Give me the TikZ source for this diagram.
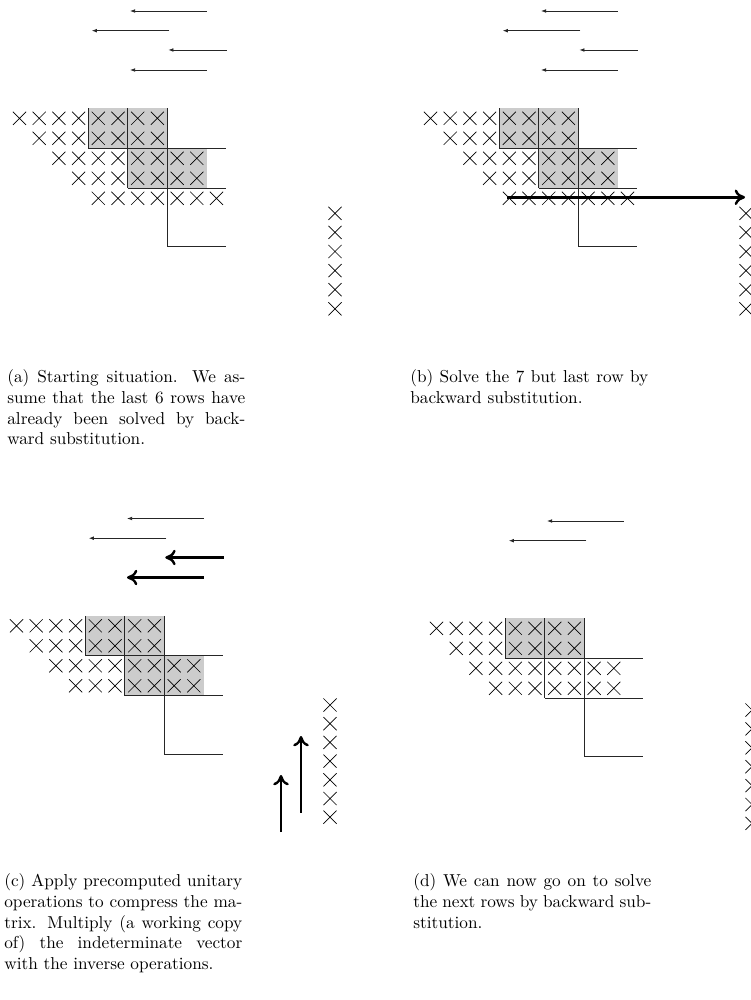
\documentclass[tikz,border=0pt]{standalone}
\usetikzlibrary{arrows.meta,shapes.misc}
\newcommand\mxpanel[4]{% #1 prefix, #2 dx, #3 dy, #4 last row
\begin{scope}[shift={(#2,#3)}]
  \fill[shade] (88.45,108.3) rectangle (167.25,148.3);
  \ifnum\secondbox=1 \fill[shade] (127.85,148.3) rectangle (206.65,188.3);\fi
  \foreach \r/\a/\b in {0/0/7,1/1/7,2/2/9,3/3/9,4/4/10}{%
    \ifnum\r>#4\relax\else
      \foreach \c in {\a,...,\b}{\node[xx] (#1-\r-\c) at ({19.5+19.7*\c},{118.3+20*\r}) {};}%
    \fi}
  \draw[gridline] (88.45,108.3) -- (88.45,148.3);
  \draw[gridline] (127.85,108.3) -- (127.85,188.3);
  \draw[gridline] (167.25,108.3) -- (167.25,246.5) -- (226.35,246.5);
  \draw[gridline] (88.45,148.3) -- (226.35,148.3);
  \draw[gridline] (127.85,188.3) -- (226.35,188.3);
\end{scope}}
\begin{document}
\begin{tikzpicture}[x=0.58pt,y=-0.58pt,
  xx/.style={cross out,draw=black,line width=0.4pt,minimum size=7.6pt,inner sep=0pt,outer sep=0pt},
  gridline/.style={draw=black!85,line width=0.5pt},
  shade/.style={fill=black!20},
  thinarrow/.style={draw=black!85,line width=0.5pt,-{Latex[length=3pt,width=2.2pt]}},
  thickarrow/.style={draw=black,line width=1.4pt,-{Computer Modern Rightarrow[length=6pt,width=9pt]}},
  captext/.style={text width=138pt,align=justify,inner sep=0pt,anchor=north west,font=\fontsize{10}{12}\selectfont}
]
\useasboundingbox (0,0) rectangle (751,1000);
% ---------- panel (a)
\def\secondbox{1}
\mxpanel{a}{0}{0}{4}
\begin{scope}
  \coordinate (a-s1) at (206.7,11);   \coordinate (a-e1) at (130,11);
  \coordinate (a-s2) at (169.3,30.7); \coordinate (a-e2) at (91.7,30.7);
  \coordinate (a-s3) at (226.7,50);   \coordinate (a-e3) at (168.3,50);
  \coordinate (a-s4) at (206.7,70);   \coordinate (a-e4) at (130,70);
  \draw[thinarrow] (a-s1) -- (a-e1);
  \draw[thinarrow] (a-s2) -- (a-e2);
  \draw[thinarrow] (a-s3) -- (a-e3);
  \draw[thinarrow] (a-s4) -- (a-e4);
  \foreach \k in {0,...,5}{\node[xx] (a-v\k) at (335,{213.3+19.1*\k}) {};}
\end{scope}
\node[captext] (capa) at (7,369.5) {(a) Starting situation. We as-\linebreak sume that the last 6 rows have\linebreak already been solved by back-\linebreak ward substitution.};
% ---------- panel (b)
\mxpanel{b}{411}{0}{4}
\begin{scope}[shift={(411,0)}]
  \coordinate (b-s1) at (206.7,11);   \coordinate (b-e1) at (130,11);
  \coordinate (b-s2) at (169.3,30.7); \coordinate (b-e2) at (91.7,30.7);
  \coordinate (b-s3) at (226.7,50);   \coordinate (b-e3) at (168.3,50);
  \coordinate (b-s4) at (206.7,70);   \coordinate (b-e4) at (130,70);
  \draw[thinarrow] (b-s1) -- (b-e1);
  \draw[thinarrow] (b-s2) -- (b-e2);
  \draw[thinarrow] (b-s3) -- (b-e3);
  \draw[thinarrow] (b-s4) -- (b-e4);
  \foreach \k in {0,...,5}{\node[xx] (b-v\k) at (335,{213.3+19.1*\k}) {};}
\end{scope}
\coordinate (b-ts) at (506.7,197.3);
\coordinate (b-te) at (745,197.3);
\draw[thickarrow] (b-ts) -- (b-te);
\node[captext] (capb) at (410,369.5) {(b) Solve the 7 but last row by\linebreak backward substitution.};
% ---------- panel (c)
\mxpanel{c}{-3}{507.5}{3}
\begin{scope}[shift={(-3,507.5)}]
  \coordinate (c-s1) at (206.7,11);   \coordinate (c-e1) at (130,11);
  \coordinate (c-s2) at (169.3,30.7); \coordinate (c-e2) at (91.7,30.7);
  \coordinate (c-s3) at (226.7,50);   \coordinate (c-e3) at (168.3,50);
  \coordinate (c-s4) at (206.7,70);   \coordinate (c-e4) at (130,70);
  \draw[thinarrow] (c-s1) -- (c-e1);
  \draw[thinarrow] (c-s2) -- (c-e2);
  \draw[thickarrow] (c-s3) -- (c-e3);
  \draw[thickarrow] (c-s4) -- (c-e4);
\end{scope}
\foreach \k in {0,...,6}{\node[xx] (c-v\k) at (330,{705+18.7*\k}) {};}
\coordinate (c-u1s) at (281,832);   \coordinate (c-u1e) at (281,775);
\coordinate (c-u2s) at (301,812.7); \coordinate (c-u2e) at (301,736);
\draw[thickarrow] (c-u1s) -- (c-u1e);
\draw[thickarrow] (c-u2s) -- (c-u2e);
\node[captext] (capc) at (4,873.5) {(c) Apply precomputed unitary\linebreak operations to compress the ma-\linebreak trix. Multiply (a working copy\linebreak of) the indeterminate vector\linebreak with the inverse operations.};
% ---------- panel (d)
\def\secondbox{0}
\mxpanel{d}{417}{510}{3}
\begin{scope}[shift={(417,510)}]
  \coordinate (d-s1) at (206.7,11);   \coordinate (d-e1) at (130,11);
  \coordinate (d-s2) at (169.3,30.7); \coordinate (d-e2) at (91.7,30.7);
  \draw[thinarrow] (d-s1) -- (d-e1);
  \draw[thinarrow] (d-s2) -- (d-e2);
\end{scope}
\foreach \k in {0,...,6}{\node[xx] (d-v\k) at (752,{710+18.9*\k}) {};}
\node[captext] (capd) at (413,873.5) {(d) We can now go on to solve\linebreak the next rows by backward sub-\linebreak stitution.};
\end{tikzpicture}
\end{document}
